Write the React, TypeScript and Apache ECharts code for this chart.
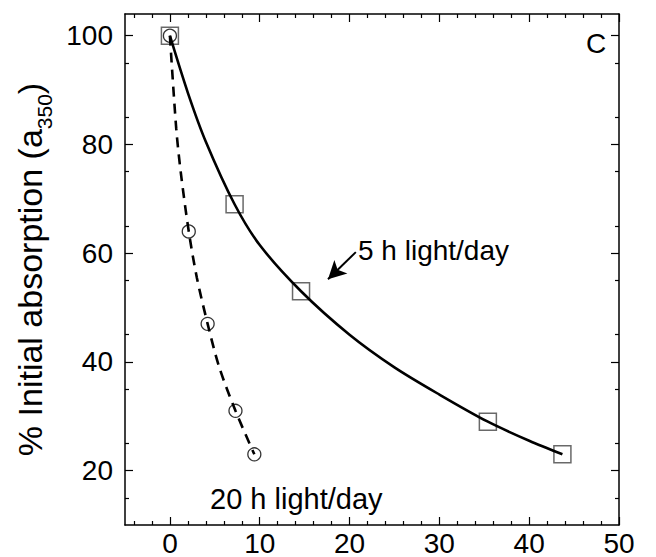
import React, { useEffect, useRef } from "react";
import * as echarts from "echarts";

// ---- data ----
// measured points
const days5h = [0, 7.2, 14.6, 35.4, 43.7];
const abs5h = [100, 69, 53, 29, 23];
const days20h = [0, 2.1, 4.2, 7.3, 9.4];
const abs20h = [100, 64, 47, 31, 23];

// fitted curves, points
const fitDays5h = [0, 2, 4, 7.2, 10, 14.6, 20, 25, 30, 35.4, 40, 43.7];
const fitAbs5h = [100, 89.5, 80.5, 69, 61.5, 53, 45, 39, 34, 29, 25.5, 23];
const fitDays20h = [0, 0.7, 1.2, 2.1, 3, 4.2, 5.5, 7.3, 9.4];
const fitAbs20h = [100, 83, 75, 64, 55.5, 47, 39, 31, 23];

const xMajorTicks = [0, 10, 20, 30, 40, 50];
const xMinorTicks = [-4, -2, 2, 4, 6, 8, 12, 14, 16, 18, 22, 24, 26, 28, 32, 34, 36, 38, 42, 44, 46, 48];
const yMajorTicks = [20, 40, 60, 80, 100];
const yMinorTicks = [15, 25, 35, 45, 55, 65, 75, 85, 95];

const FONT = "Liberation Sans, Arial, Helvetica, sans-serif";

function makeAxis(position: string, min: number, max: number, ticks: number[], len: number, line: boolean, labels: boolean, extra: any = {}) {
  return {
    type: "value",
    position,
    min,
    max,
    axisLine: { show: line, onZero: false, lineStyle: { color: "#000", width: 1.5 } },
    axisTick: { show: true, inside: true, length: len, customValues: ticks, lineStyle: { color: "#000", width: 1.2 } },
    axisLabel: labels
      ? { show: true, customValues: ticks, fontSize: 28, color: "#000", fontFamily: FONT, ...extra }
      : { show: false },
    splitLine: { show: false },
  };
}

export default function App() {
  const ref = useRef<HTMLDivElement>(null);
  useEffect(() => {
    if (!ref.current) return;
    const chart = echarts.init(ref.current, undefined, { renderer: "svg" });
    const zip = (xs: number[], ys: number[]) => xs.map((x, i) => [x, ys[i]]);
    chart.setOption({
      animation: false,
      backgroundColor: "#fff",
      grid: { left: 125, top: 14, right: 37, bottom: 29, containLabel: false },
      xAxis: [
        makeAxis("bottom", -5, 50, xMajorTicks, 8, true, true, { margin: 4 }),
        makeAxis("bottom", -5, 50, xMinorTicks, 4, false, false),
        makeAxis("top", -5, 50, xMajorTicks, 8, true, false),
        makeAxis("top", -5, 50, xMinorTicks, 4, false, false),
      ],
      yAxis: [
        {
          ...makeAxis("left", 10, 104, yMajorTicks, 8, true, true, { margin: 12 }),
          name: "{n|% Initial absorption (a}{s|350}{n|)}",
          nameLocation: "middle",
          nameRotate: 90,
          nameGap: 39,
          nameTextStyle: {
            fontFamily: FONT,
            color: "#000",
            rich: {
              n: { fontSize: 34, fontFamily: FONT, color: "#000", verticalAlign: "top", lineHeight: 42 },
              s: { fontSize: 21, fontFamily: FONT, color: "#000", verticalAlign: "bottom", lineHeight: 42 },
            },
          },
        },
        makeAxis("left", 10, 104, yMinorTicks, 4, false, false),
        makeAxis("right", 10, 104, yMajorTicks, 8, true, false),
        makeAxis("right", 10, 104, yMinorTicks, 4, false, false),
      ],
      series: [
        {
          name: "5 h fit",
          type: "line",
          data: zip(fitDays5h, fitAbs5h),
          smooth: 0.3,
          showSymbol: false,
          symbol: "none",
          lineStyle: { color: "#000", width: 2.6 },
          z: 3,
          markLine: {
            silent: true,
            symbol: ["none", "arrow"],
            symbolSize: [14, 18],
            label: { show: false },
            lineStyle: { color: "#000", width: 2, type: "solid" },
            data: [[{ coord: [20.7, 60.2] }, { coord: [17.6, 55.2] }]],
          },
        },
        {
          name: "20 h fit",
          type: "line",
          data: zip(fitDays20h, fitAbs20h),
          smooth: 0.3,
          showSymbol: false,
          symbol: "none",
          lineStyle: { color: "#000", width: 2.6, type: [10, 7] },
          z: 3,
        },
        {
          name: "5 h light/day",
          type: "scatter",
          data: zip(days5h, abs5h),
          symbol: "rect",
          symbolSize: 17,
          itemStyle: { color: "rgba(0,0,0,0)", borderColor: "#444", borderWidth: 1.5 },
          z: 2,
        },
        {
          name: "20 h light/day",
          type: "scatter",
          data: zip(days20h, abs20h),
          symbol: "circle",
          symbolSize: 13,
          itemStyle: { color: "rgba(0,0,0,0)", borderColor: "#000", borderWidth: 1.3 },
          z: 2,
        },
      ],
      graphic: [
        { type: "text", left: 358, top: 236, style: { text: "5 h light/day", fontSize: 28, fontFamily: FONT, fill: "#000" } },
        { type: "text", left: 210, top: 484, style: { text: "20 h light/day", fontSize: 29, fontFamily: FONT, fill: "#000" } },
        { type: "text", left: 586, top: 29, style: { text: "C", fontSize: 28, fontFamily: FONT, fill: "#000" } },
      ],
    });
    return () => chart.dispose();
  }, []);
  return <div ref={ref} style={{ position: "fixed", left: 0, top: 0, width: 656, height: 557 }} />;
}
